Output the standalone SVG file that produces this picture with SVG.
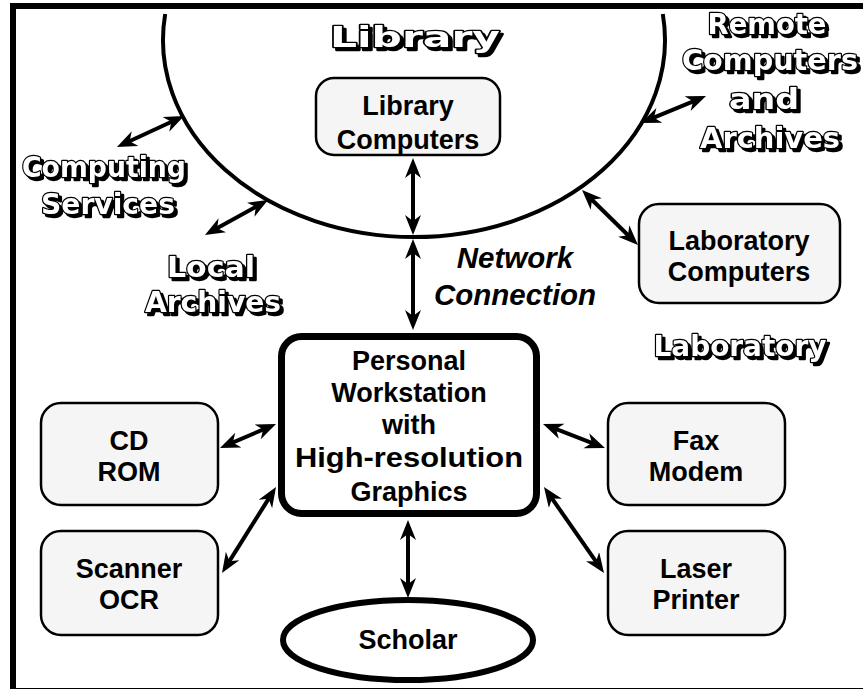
<svg xmlns="http://www.w3.org/2000/svg" width="863" height="689" viewBox="0 0 863 689">
  <defs>
    <style>
      .box{fill:#f5f5f5;stroke:#000;stroke-width:2.5}
      .lbl{font-family:"Liberation Sans",Arial,sans-serif;font-weight:bold;font-size:27px;text-anchor:middle;fill:#000}
      .ital{font-style:italic;font-size:29.5px}
      .big{font-family:"DejaVu Sans","Liberation Sans",sans-serif;font-weight:bold;font-size:28px;text-anchor:middle;fill:#fff;stroke:#000;stroke-width:2.4;stroke-linejoin:round;paint-order:stroke;filter:url(#drop)}
      .conn line{stroke:#000;stroke-width:4;fill:none;marker-start:url(#ah);marker-end:url(#ah)}
    </style>
    <!-- solid black drop shadow behind the hollow lettering -->
    <filter id="drop" x="-10%" y="-30%" width="120%" height="160%">
      <feOffset in="SourceAlpha" dx="3" dy="3" result="off"/>
      <feMerge>
        <feMergeNode in="off"/>
        <feMergeNode in="SourceGraphic"/>
      </feMerge>
    </filter>
    <marker id="ah" markerUnits="userSpaceOnUse" markerWidth="22" markerHeight="18" refX="14" refY="8" orient="auto-start-reverse" viewBox="0 0 22 18">
      <path d="M0,0 L20,8 L0,16 L6,8 Z" fill="#000"/>
    </marker>
  </defs>

  <!-- page frame -->
  <g id="frame">
    <rect x="10" y="3" width="853" height="6" fill="#000"/>
    <rect x="10" y="3" width="6" height="686" fill="#000"/>
    <line x1="10" y1="688.5" x2="863" y2="688.5" stroke="#000" stroke-width="1"/>
  </g>

  <!-- library boundary -->
  <g id="library">
    <path d="M165.2,14 A251,197 0 1 0 662.8,14" fill="none" stroke="#000" stroke-width="4"/>
    <text class="big" x="415" y="47" font-size="34" textLength="170" lengthAdjust="spacingAndGlyphs">Library</text>
  </g>

  <!-- outlined area labels -->
  <g id="remote">
    <text class="big" x="767" y="34" textLength="119" lengthAdjust="spacingAndGlyphs">Remote</text>
    <text class="big" x="770" y="70" textLength="176" lengthAdjust="spacingAndGlyphs">Computers</text>
    <text class="big" x="764" y="109" textLength="70" lengthAdjust="spacingAndGlyphs">and</text>
    <text class="big" x="770" y="148" textLength="140" lengthAdjust="spacingAndGlyphs">Archives</text>
  </g>
  <g id="computing">
    <text class="big" x="104" y="177" textLength="164" lengthAdjust="spacingAndGlyphs">Computing</text>
    <text class="big" x="108" y="214" textLength="134" lengthAdjust="spacingAndGlyphs">Services</text>
  </g>
  <g id="local">
    <text class="big" x="211" y="277" textLength="88" lengthAdjust="spacingAndGlyphs">Local</text>
    <text class="big" x="213" y="312" textLength="136" lengthAdjust="spacingAndGlyphs">Archives</text>
  </g>
  <g id="laboratory">
    <text class="big" x="740" y="356" textLength="173" lengthAdjust="spacingAndGlyphs">Laboratory</text>
  </g>

  <!-- nodes -->
  <g id="library-computers">
    <rect class="box" x="316" y="78" width="184" height="77" rx="18"/>
    <text class="lbl" x="408" y="115">Library</text>
    <text class="lbl" x="408" y="149">Computers</text>
  </g>
  <g id="laboratory-computers">
    <rect class="box" x="639" y="204" width="201" height="99" rx="20"/>
    <text class="lbl" x="739" y="250">Laboratory</text>
    <text class="lbl" x="739" y="281">Computers</text>
  </g>
  <g id="workstation">
    <rect x="281.5" y="336.5" width="255" height="177" rx="20" fill="#fff" stroke="#000" stroke-width="7"/>
    <text class="lbl" x="409" y="370">Personal</text>
    <text class="lbl" x="409" y="402">Workstation</text>
    <text class="lbl" x="409" y="434">with</text>
    <text class="lbl" x="409" y="467" textLength="228" lengthAdjust="spacingAndGlyphs">High-resolution</text>
    <text class="lbl" x="409" y="501">Graphics</text>
  </g>
  <g id="cd-rom">
    <rect class="box" x="41" y="403" width="177" height="102" rx="20"/>
    <text class="lbl" x="129" y="450">CD</text>
    <text class="lbl" x="129" y="481">ROM</text>
  </g>
  <g id="fax-modem">
    <rect class="box" x="608" y="403" width="177" height="102" rx="20"/>
    <text class="lbl" x="696" y="450">Fax</text>
    <text class="lbl" x="696" y="481">Modem</text>
  </g>
  <g id="scanner">
    <rect class="box" x="41" y="531" width="177" height="104" rx="20"/>
    <text class="lbl" x="129" y="578">Scanner</text>
    <text class="lbl" x="129" y="609">OCR</text>
  </g>
  <g id="laser">
    <rect class="box" x="608" y="531" width="177" height="104" rx="20"/>
    <text class="lbl" x="696" y="578">Laser</text>
    <text class="lbl" x="696" y="609">Printer</text>
  </g>
  <g id="scholar">
    <ellipse cx="408" cy="640" rx="125" ry="40" fill="#fff" stroke="#000" stroke-width="6"/>
    <text class="lbl" x="408" y="649">Scholar</text>
  </g>

  <!-- connector label -->
  <g id="network-label">
    <text class="lbl ital" x="515" y="268">Network</text>
    <text class="lbl ital" x="515" y="305">Connection</text>
  </g>

  <!-- connectors -->
  <g id="connectors" class="conn">
    <line x1="122.4" y1="144.5" x2="178.6" y2="118.5"/>
    <line x1="210.2" y1="232.1" x2="262.8" y2="202.9"/>
    <line x1="413" y1="164" x2="413" y2="229"/>
    <line x1="413" y1="245" x2="413" y2="324"/>
    <line x1="646.5" y1="120.7" x2="700.5" y2="98.3"/>
    <line x1="586.3" y1="194.2" x2="633.7" y2="240.8"/>
    <line x1="225.5" y1="445.6" x2="270.5" y2="426.4"/>
    <line x1="548.6" y1="426.2" x2="599.4" y2="445.8"/>
    <line x1="225.2" y1="567.9" x2="272.8" y2="492.1"/>
    <line x1="547.4" y1="491.9" x2="600.6" y2="568.1"/>
    <line x1="408" y1="526" x2="408" y2="592"/>
  </g>
</svg>
